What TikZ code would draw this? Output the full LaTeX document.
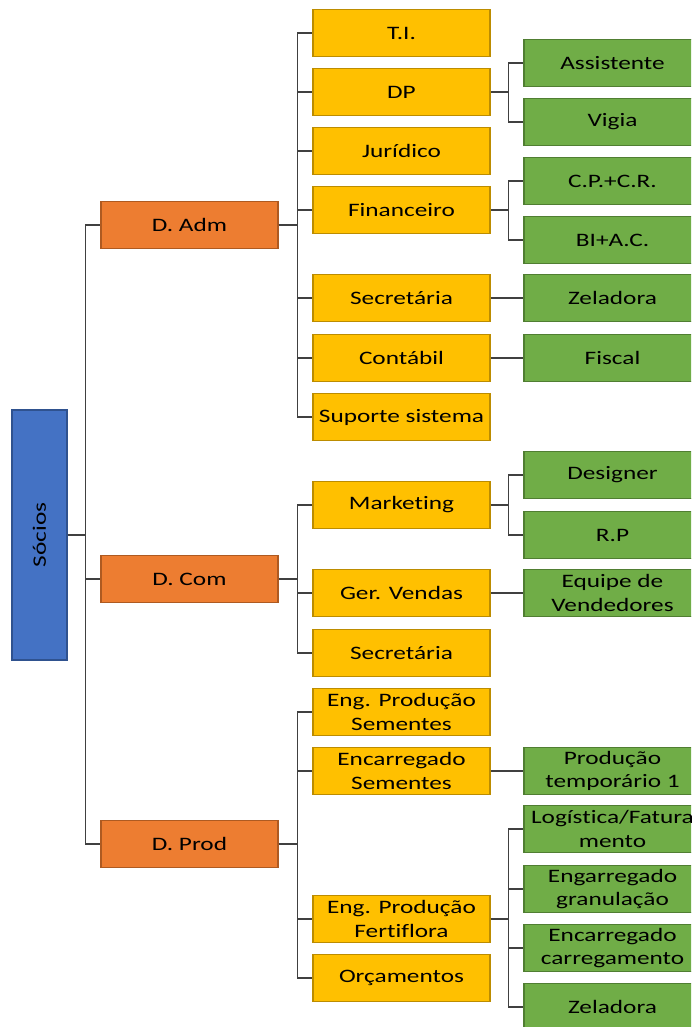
\documentclass[tikz,border=0pt]{standalone}
\usepackage{fontspec}
\setmainfont{Carlito}[FakeStretch=1.33, Ligatures={NoCommon}]
\definecolor{cblue}{HTML}{4472C4}\definecolor{cblueD}{HTML}{2F528F}
\definecolor{corange}{HTML}{ED7D31}\definecolor{corangeD}{HTML}{AE5A21}
\definecolor{cyellow}{HTML}{FFC000}\definecolor{cyellowD}{HTML}{BC8C00}
\definecolor{cgreen}{HTML}{70AD47}\definecolor{cgreenD}{HTML}{507E32}
\definecolor{cline}{HTML}{404040}
\begin{document}
\begin{tikzpicture}[x=1pt,y=-1pt,
  box/.style={draw, line width=1.5pt, minimum width=177pt, minimum height=47pt, inner sep=0pt, align=center, font=\fontsize{19}{23.5}\selectfont, text=black},
  lvlA/.style={box, fill=corange, draw=corangeD},
  lvlB/.style={box, fill=cyellow, draw=cyellowD},
  lvlC/.style={box, fill=cgreen, draw=cgreenD},
  conn/.style={draw=cline, line width=1.4pt}]
\path[use as bounding box, clip] (0,0) rectangle (691,1027);
\fill[white] (0,0) rectangle (691,1027);
% root
\node[box, fill=cblue, draw=cblueD, minimum width=250pt, minimum height=55pt, rotate=90] (soc) at (39.5,535) {Sócios};
% level A
\node[lvlA] (adm) at (189.5,225) {D. Adm};
\node[lvlA] (com) at (189.5,579) {D. Com};
\node[lvlA] (prod) at (189.5,844) {D. Prod};
% level B
\node[lvlB] (ti) at (401.5,33) {T.I.};
\node[lvlB] (dp) at (401.5,92) {DP};
\node[lvlB] (jur) at (401.5,151) {Jurídico};
\node[lvlB] (fin) at (401.5,210) {Financeiro};
\node[lvlB] (sec) at (401.5,298) {Secretária};
\node[lvlB] (cont) at (401.5,358) {Contábil};
\node[lvlB] (sup) at (401.5,417) {Suporte sistema};
\node[lvlB] (mkt) at (401.5,505) {Marketing};
\node[lvlB] (ger) at (401.5,593) {Ger. Vendas};
\node[lvlB] (sec2) at (401.5,653) {Secretária};
\node[lvlB] (eps) at (401.5,712) {Eng. Produção\\Sementes};
\node[lvlB] (ens) at (401.5,771) {Encarregado\\Sementes};
\node[lvlB] (epf) at (401.5,919) {Eng. Produção\\Fertiflora};
\node[lvlB] (orc) at (401.5,978) {Orçamentos};
% level C
\node[lvlC] (ass) at (612.5,63) {Assistente};
\node[lvlC] (vig) at (612.5,122) {Vigia};
\node[lvlC] (cpcr) at (612.5,181) {C.P.+C.R.};
\node[lvlC] (biac) at (612.5,240) {BI+A.C.};
\node[lvlC] (zel) at (612.5,298) {Zeladora};
\node[lvlC] (fis) at (612.5,358) {Fiscal};
\node[lvlC] (des) at (612.5,475) {Designer};
\node[lvlC] (rp) at (612.5,535) {R.P};
\node[lvlC] (eqv) at (612.5,593) {Equipe de\\Vendedores};
\node[lvlC] (pt1) at (612.5,771) {Produção\\temporário 1};
\node[lvlC] (log) at (612.5,829) {Logística/Fatura\\mento};
\node[lvlC] (egr) at (612.5,889) {Engarregado\\granulação};
\node[lvlC] (ecr) at (612.5,948) {Encarregado\\carregamento};
\node[lvlC] (zel2) at (612.5,1007) {Zeladora};
% connectors
\foreach \c in {adm,com,prod} \path[conn] (soc.south) -- ++(18,0) |- (\c.west);
\foreach \c in {ti,dp,jur,fin,sec,cont,sup} \path[conn] (adm.east) -- ++(19,0) |- (\c.west);
\foreach \c in {mkt,ger,sec2} \path[conn] (com.east) -- ++(19,0) |- (\c.west);
\foreach \c in {eps,ens,epf,orc} \path[conn] (prod.east) -- ++(19,0) |- (\c.west);
\foreach \c in {ass,vig} \path[conn] (dp.east) -- ++(18,0) |- (\c.west);
\foreach \c in {cpcr,biac} \path[conn] (fin.east) -- ++(18,0) |- (\c.west);
\path[conn] (sec.east) -- (zel.west);
\path[conn] (cont.east) -- (fis.west);
\foreach \c in {des,rp} \path[conn] (mkt.east) -- ++(18,0) |- (\c.west);
\path[conn] (ger.east) -- (eqv.west);
\path[conn] (ens.east) -- (pt1.west);
\foreach \c in {log,egr,ecr,zel2} \path[conn] (epf.east) -- ++(18,0) |- (\c.west);
\end{tikzpicture}
\end{document}
